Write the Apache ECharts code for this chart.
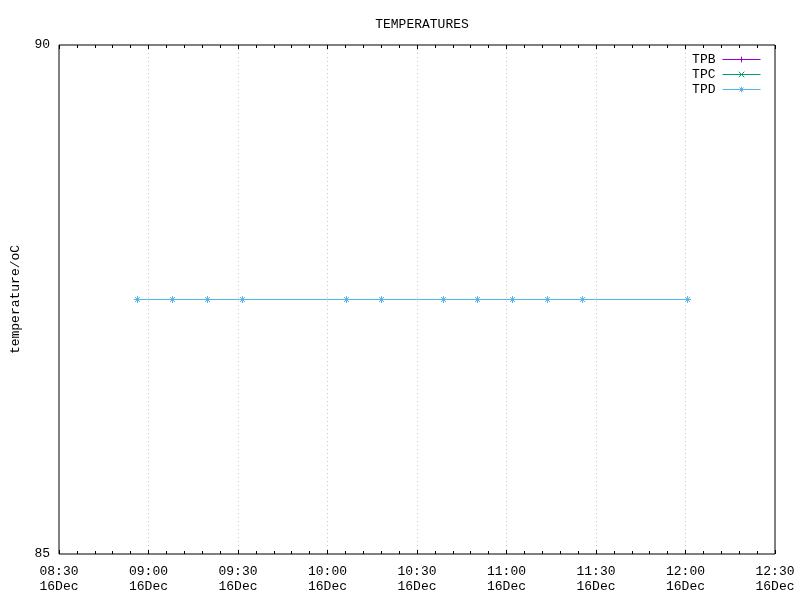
<!DOCTYPE html>
<html>
<head>
<meta charset="utf-8">
<script src="https://cdn.jsdelivr.net/npm/echarts@6/dist/echarts.min.js"></script>
<style>html,body{margin:0;padding:0;background:#fff}#c{width:800px;height:600px}</style>
</head>
<body>
<div id="c"></div>
<script>
// Data (times on 16 Dec, temperatures in oC)
var seriesNames = ['TPB', 'TPC', 'TPD'];
var tpbTimes = [];
var tpbValues = [];
var tpcTimes = [];
var tpcValues = [];
var tpdTimes = ['08:56:19', '09:08:03', '09:19:47', '09:31:30', '10:06:22', '10:18:06',
                '10:38:53', '10:50:17', '11:02:01', '11:13:46', '11:25:30', '12:00:42'];
var tpdValues = [87.5, 87.5, 87.5, 87.5, 87.5, 87.5, 87.5, 87.5, 87.5, 87.5, 87.5, 87.5];
var dayLabel = '16Dec';
var xMinTime = '08:30', xMaxTime = '12:30';
var yTicks = [85, 90];

function toMin(t) {
  var p = t.split(':').map(Number);
  return p[0] * 60 + p[1] + (p[2] || 0) / 60;
}
function pairs(times, vals) {
  return times.map(function (t, i) { return [toMin(t), vals[i]]; });
}
function fmt(m) {
  var h = Math.floor(m / 60), mm = Math.round(m % 60);
  return (h < 10 ? '0' : '') + h + ':' + (mm < 10 ? '0' : '') + mm + '\n' + dayLabel;
}

var FONT = '"Liberation Mono", "DejaVu Sans Mono", monospace';
var colors = ['#9400d3', '#009e73', '#56b4e9'];
var symbols = [
  'path://M5,0L5,10M0,5L10,5',
  'path://M0,0L10,10M0,10L10,0',
  'path://M5,0L5,10M0,5L10,5M1.5,1.5L8.5,8.5M1.5,8.5L8.5,1.5'
];
var datas = [pairs(tpbTimes, tpbValues), pairs(tpcTimes, tpcValues), pairs(tpdTimes, tpdValues)];

var chart = echarts.init(document.getElementById('c'), null, { renderer: 'canvas' });
var xCommon = {
  type: 'value',
  min: toMin(xMinTime),
  max: toMin(xMaxTime),
  interval: 30,
  minorTick: { show: true, splitNumber: 5, length: 3, lineStyle: { color: '#000' } },
  axisTick: { inside: true, length: 4, lineStyle: { color: '#000' } },
  axisLine: { show: false }
};
chart.setOption({
  animation: false,
  backgroundColor: '#fff',
  color: colors,
  title: {
    text: 'TEMPERATURES', left: 417, top: 13, textAlign: 'center',
    textStyle: { fontFamily: FONT, fontSize: 13, fontWeight: 'normal', color: '#000' }
  },
  legend: {
    data: seriesNames.map(function (n) { return { name: n }; }),
    orient: 'vertical',
    right: 34, top: 48,
    align: 'right',
    itemWidth: 38, itemHeight: 7, itemGap: 2,
    itemStyle: { borderWidth: 1 },
    lineStyle: { width: 1 },
    textStyle: { fontFamily: FONT, fontSize: 13, color: '#000', padding: [0, 2, 0, 0] }
  },
  grid: {
    left: 59, right: 25, top: 45, bottom: 46,
    outerBoundsMode: 'none', containLabel: false,
    show: true, borderColor: '#000', borderWidth: 1, backgroundColor: 'transparent'
  },
  xAxis: [
    Object.assign({}, xCommon, {
      position: 'bottom',
      axisLabel: {
        formatter: fmt, fontFamily: FONT, fontSize: 13, color: '#000',
        lineHeight: 15, margin: 10
      },
      splitLine: { show: true, showMinLine: false, showMaxLine: false,
                   lineStyle: { color: '#c8c8c8', type: [1, 3], width: 1 } }
    }),
    Object.assign({}, xCommon, {
      position: 'top',
      axisLabel: { show: false },
      splitLine: { show: false }
    })
  ],
  yAxis: {
    type: 'value',
    min: yTicks[0], max: yTicks[1], interval: yTicks[1] - yTicks[0],
    name: 'temperature/oC', nameLocation: 'middle', nameRotate: 90, nameGap: 37,
    nameTextStyle: { fontFamily: FONT, fontSize: 13, color: '#000' },
    axisLine: { show: false },
    axisTick: { show: false },
    splitLine: { show: false },
    axisLabel: { fontFamily: FONT, fontSize: 13, color: '#000', margin: 9, padding: [3, 0, 0, 0] }
  },
  series: seriesNames.map(function (n, i) {
    return {
      name: n, type: 'line', xAxisIndex: 0,
      data: datas[i],
      symbol: symbols[i], symbolSize: 7,
      showAllSymbol: true,
      color: colors[i],
      lineStyle: { color: colors[i], width: 1 },
      itemStyle: { color: colors[i], borderColor: colors[i], borderWidth: 1 }
    };
  })
});
</script>
</body>
</html>
